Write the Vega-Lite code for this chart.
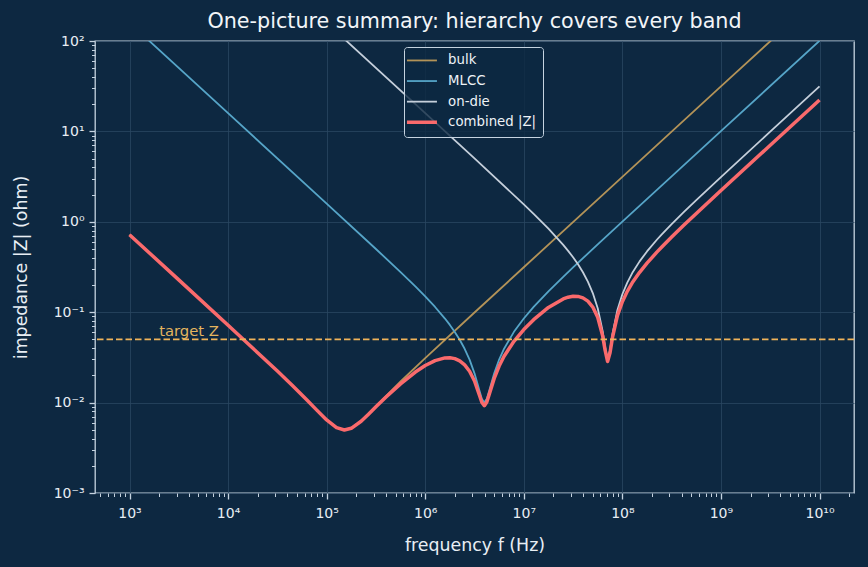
{
  "$schema": "https://vega.github.io/schema/vega-lite/v6.json",
  "width": 759,
  "height": 452,
  "autosize": {"type": "none"},
  "padding": {"left": 95, "top": 41, "right": 14, "bottom": 74},
  "background": "#0d2841",
  "title": {
    "text": "One-picture summary: hierarchy covers every band",
    "fontSize": 20.7,
    "fontWeight": "normal",
    "color": "#f2f5f8",
    "anchor": "middle",
    "offset": 1.5
  },
  "config": {
    "font": "DejaVu Sans",
    "view": {"stroke": "#c5d3e0", "strokeWidth": 1.3, "fill": "#0d2841"},
    "legend": {
      "orient": "none",
      "legendX": 309,
      "legendY": 6,
      "fillColor": "rgba(13,40,65,0.8)",
      "strokeColor": "#c5d3e0",
      "strokeWidth": 1,
      "cornerRadius": 3,
      "padding": 6.8,
      "labelFontSize": 13.3,
      "labelColor": "#eef2f6",
      "symbolType": "M-2,0H2",
      "symbolSize": 225,
      "symbolStrokeWidth": 1.8,
      "symbolOffset": 4.5,
      "labelOffset": 19.5,
      "rowPadding": 6.6
    }
  },
  "datasets": {
    "curves": [
      {"s": "bulk", "f": 1000, "z": 0.72342},
      {"s": "bulk", "f": 3162.28, "z": 0.22872},
      {"s": "bulk", "f": 10000, "z": 0.072202},
      {"s": "bulk", "f": 31622.8, "z": 0.022448},
      {"s": "bulk", "f": 63095.7, "z": 0.010721},
      {"s": "bulk", "f": 100000, "z": 0.006462},
      {"s": "bulk", "f": 125893, "z": 0.005311},
      {"s": "bulk", "f": 151356, "z": 0.005},
      {"s": "bulk", "f": 177828, "z": 0.0052255},
      {"s": "bulk", "f": 223872, "z": 0.0062812},
      {"s": "bulk", "f": 316228, "z": 0.0091365},
      {"s": "bulk", "f": 562341, "z": 0.017126},
      {"s": "bulk", "f": 1e6, "z": 0.031097},
      {"s": "bulk", "f": 3.16228e6, "z": 0.099243},
      {"s": "bulk", "f": 1e7, "z": 0.31413},
      {"s": "bulk", "f": 1e8, "z": 3.1416},
      {"s": "bulk", "f": 1e9, "z": 31.416},
      {"s": "bulk", "f": 3.16228e9, "z": 99.346},
      {"s": "bulk", "f": 1e10, "z": 314.16},

      {"s": "MLCC", "f": 1000, "z": 159.155},
      {"s": "MLCC", "f": 1584.89, "z": 100.42},
      {"s": "MLCC", "f": 10000, "z": 15.9154},
      {"s": "MLCC", "f": 100000, "z": 1.59054},
      {"s": "MLCC", "f": 316228, "z": 0.50011},
      {"s": "MLCC", "f": 562341, "z": 0.277553},
      {"s": "MLCC", "f": 794328, "z": 0.192638},
      {"s": "MLCC", "f": 1e6, "z": 0.14944},
      {"s": "MLCC", "f": 1.25893e6, "z": 0.114204},
      {"s": "MLCC", "f": 1.58489e6, "z": 0.085076},
      {"s": "MLCC", "f": 1.77828e6, "z": 0.072318},
      {"s": "MLCC", "f": 1.99526e6, "z": 0.06054},
      {"s": "MLCC", "f": 2.23872e6, "z": 0.049604},
      {"s": "MLCC", "f": 2.51189e6, "z": 0.039397},
      {"s": "MLCC", "f": 2.81838e6, "z": 0.02986},
      {"s": "MLCC", "f": 3.16228e6, "z": 0.021063},
      {"s": "MLCC", "f": 3.54813e6, "z": 0.013579},
      {"s": "MLCC", "f": 3.75837e6, "z": 0.010992},
      {"s": "MLCC", "f": 3.98107e6, "z": 0.01},
      {"s": "MLCC", "f": 4.21697e6, "z": 0.011029},
      {"s": "MLCC", "f": 4.46684e6, "z": 0.013639},
      {"s": "MLCC", "f": 5.01187e6, "z": 0.021143},
      {"s": "MLCC", "f": 5.62341e6, "z": 0.02995},
      {"s": "MLCC", "f": 6.30957e6, "z": 0.039495},
      {"s": "MLCC", "f": 7.94328e6, "z": 0.060649},
      {"s": "MLCC", "f": 1e7, "z": 0.085204},
      {"s": "MLCC", "f": 1.25893e7, "z": 0.114356},
      {"s": "MLCC", "f": 1.77828e7, "z": 0.170116},
      {"s": "MLCC", "f": 2.51189e7, "z": 0.24639},
      {"s": "MLCC", "f": 3.16228e7, "z": 0.313033},
      {"s": "MLCC", "f": 5.62341e7, "z": 0.562586},
      {"s": "MLCC", "f": 1e8, "z": 1.00377},
      {"s": "MLCC", "f": 1e9, "z": 10.0531},
      {"s": "MLCC", "f": 1e10, "z": 100.531},

      {"s": "on-die", "f": 1000, "z": 15915.5},
      {"s": "on-die", "f": 10000, "z": 1591.55},
      {"s": "on-die", "f": 100000, "z": 159.155},
      {"s": "on-die", "f": 158489, "z": 100.42},
      {"s": "on-die", "f": 1e6, "z": 15.9124},
      {"s": "on-die", "f": 3.16228e6, "z": 5.02299},
      {"s": "on-die", "f": 1e7, "z": 1.56042},
      {"s": "on-die", "f": 1.25893e7, "z": 1.22503},
      {"s": "on-die", "f": 1.77828e7, "z": 0.83967},
      {"s": "on-die", "f": 2.51189e7, "z": 0.555504},
      {"s": "on-die", "f": 2.81838e7, "z": 0.477108},
      {"s": "on-die", "f": 3.16228e7, "z": 0.405058},
      {"s": "on-die", "f": 3.54813e7, "z": 0.338427},
      {"s": "on-die", "f": 3.98107e7, "z": 0.276344},
      {"s": "on-die", "f": 4.46684e7, "z": 0.218049},
      {"s": "on-die", "f": 5.01187e7, "z": 0.16289},
      {"s": "on-die", "f": 5.62341e7, "z": 0.110512},
      {"s": "on-die", "f": 6.30957e7, "z": 0.061796},
      {"s": "on-die", "f": 6.68344e7, "z": 0.041153},
      {"s": "on-die", "f": 7.07946e7, "z": 0.030097},
      {"s": "on-die", "f": 7.49894e7, "z": 0.038014},
      {"s": "on-die", "f": 7.94328e7, "z": 0.057609},
      {"s": "on-die", "f": 8.91251e7, "z": 0.105764},
      {"s": "on-die", "f": 1e8, "z": 0.15788},
      {"s": "on-die", "f": 1.12202e8, "z": 0.212771},
      {"s": "on-die", "f": 1.25893e8, "z": 0.270751},
      {"s": "on-die", "f": 1.49624e8, "z": 0.364922},
      {"s": "on-die", "f": 1.77828e8, "z": 0.470119},
      {"s": "on-die", "f": 2.23872e8, "z": 0.632937},
      {"s": "on-die", "f": 2.51189e8, "z": 0.72639},
      {"s": "on-die", "f": 3.16228e8, "z": 0.943607},
      {"s": "on-die", "f": 4.21697e8, "z": 1.28741},
      {"s": "on-die", "f": 5.62341e8, "z": 1.7386},
      {"s": "on-die", "f": 1e9, "z": 3.12582},
      {"s": "on-die", "f": 3.16228e9, "z": 9.92956},
      {"s": "on-die", "f": 1e10, "z": 31.4143},

      {"s": "combined |Z|", "f": 1000, "z": 0.720109},
      {"s": "combined |Z|", "f": 3162.28, "z": 0.227674},
      {"s": "combined |Z|", "f": 10000, "z": 0.071873},
      {"s": "combined |Z|", "f": 31622.8, "z": 0.022347},
      {"s": "combined |Z|", "f": 44668.4, "z": 0.015545},
      {"s": "combined |Z|", "f": 63095.7, "z": 0.010675},
      {"s": "combined |Z|", "f": 79432.8, "z": 0.0082551},
      {"s": "combined |Z|", "f": 100000, "z": 0.0064356},
      {"s": "combined |Z|", "f": 125893, "z": 0.0052886},
      {"s": "combined |Z|", "f": 151356, "z": 0.0049761},
      {"s": "combined |Z|", "f": 177828, "z": 0.0051948},
      {"s": "combined |Z|", "f": 223872, "z": 0.0062255},
      {"s": "combined |Z|", "f": 266073, "z": 0.0074421},
      {"s": "combined |Z|", "f": 316228, "z": 0.008971},
      {"s": "combined |Z|", "f": 398107, "z": 0.011457},
      {"s": "combined |Z|", "f": 562341, "z": 0.016121},
      {"s": "combined |Z|", "f": 794328, "z": 0.021758},
      {"s": "combined |Z|", "f": 1e6, "z": 0.025699},
      {"s": "combined |Z|", "f": 1.25893e6, "z": 0.029168},
      {"s": "combined |Z|", "f": 1.58489e6, "z": 0.03123},
      {"s": "combined |Z|", "f": 1.77828e6, "z": 0.03135},
      {"s": "combined |Z|", "f": 1.99526e6, "z": 0.030639},
      {"s": "combined |Z|", "f": 2.23872e6, "z": 0.028945},
      {"s": "combined |Z|", "f": 2.51189e6, "z": 0.026155},
      {"s": "combined |Z|", "f": 2.81838e6, "z": 0.022234},
      {"s": "combined |Z|", "f": 3.16228e6, "z": 0.017315},
      {"s": "combined |Z|", "f": 3.54813e6, "z": 0.012071},
      {"s": "combined |Z|", "f": 3.75837e6, "z": 0.010031},
      {"s": "combined |Z|", "f": 3.98107e6, "z": 0.0092377},
      {"s": "combined |Z|", "f": 4.21697e6, "z": 0.010153},
      {"s": "combined |Z|", "f": 4.46684e6, "z": 0.012387},
      {"s": "combined |Z|", "f": 5.01187e6, "z": 0.01853},
      {"s": "combined |Z|", "f": 5.62341e6, "z": 0.025376},
      {"s": "combined |Z|", "f": 6.30957e6, "z": 0.032504},
      {"s": "combined |Z|", "f": 7.94328e6, "z": 0.047615},
      {"s": "combined |Z|", "f": 1e7, "z": 0.064264},
      {"s": "combined |Z|", "f": 1.25893e7, "z": 0.082716},
      {"s": "combined |Z|", "f": 1.77828e7, "z": 0.112874},
      {"s": "combined |Z|", "f": 2.51189e7, "z": 0.140331},
      {"s": "combined |Z|", "f": 2.81838e7, "z": 0.146537},
      {"s": "combined |Z|", "f": 3.16228e7, "z": 0.149927},
      {"s": "combined |Z|", "f": 3.54813e7, "z": 0.149476},
      {"s": "combined |Z|", "f": 3.98107e7, "z": 0.144066},
      {"s": "combined |Z|", "f": 4.46684e7, "z": 0.132575},
      {"s": "combined |Z|", "f": 5.01187e7, "z": 0.11401},
      {"s": "combined |Z|", "f": 5.62341e7, "z": 0.087778},
      {"s": "combined |Z|", "f": 6.30957e7, "z": 0.054736},
      {"s": "combined |Z|", "f": 6.68344e7, "z": 0.038067},
      {"s": "combined |Z|", "f": 7.07946e7, "z": 0.028502},
      {"s": "combined |Z|", "f": 7.49894e7, "z": 0.035637},
      {"s": "combined |Z|", "f": 7.94328e7, "z": 0.052591},
      {"s": "combined |Z|", "f": 8.91251e7, "z": 0.091488},
      {"s": "combined |Z|", "f": 1e8, "z": 0.130745},
      {"s": "combined |Z|", "f": 1.12202e8, "z": 0.170322},
      {"s": "combined |Z|", "f": 1.25893e8, "z": 0.211096},
      {"s": "combined |Z|", "f": 1.49624e8, "z": 0.276371},
      {"s": "combined |Z|", "f": 1.77828e8, "z": 0.348947},
      {"s": "combined |Z|", "f": 2.23872e8, "z": 0.461555},
      {"s": "combined |Z|", "f": 2.51189e8, "z": 0.526455},
      {"s": "combined |Z|", "f": 3.16228e8, "z": 0.677952},
      {"s": "combined |Z|", "f": 4.21697e8, "z": 0.918998},
      {"s": "combined |Z|", "f": 5.62341e8, "z": 1.23659},
      {"s": "combined |Z|", "f": 1e9, "z": 2.21621},
      {"s": "combined |Z|", "f": 3.16228e9, "z": 7.03082},
      {"s": "combined |Z|", "f": 1e10, "z": 22.2405}
    ],
    "target": [{"z": 0.05}],
    "note": [{"f": 2000, "z": 0.05, "label": "target Z"}]
  },
  "layer": [
    {
      "data": {"name": "curves"},
      "mark": {"type": "line", "clip": true, "strokeJoin": "round"},
      "encoding": {
        "x": {
          "field": "f",
          "type": "quantitative",
          "scale": {"type": "log", "domain": [446.68, 2.2387e10], "nice": false},
          "axis": {
            "orient": "bottom",
            "values": [1e3, 1e4, 1e5, 1e6, 1e7, 1e8, 1e9, 1e10],
            "labelExpr": "'10' + replace(replace(replace(replace(replace(replace(replace(replace(replace(replace(replace(toString(round(log(datum.value)/LN10)),'-','⁻'),'0','⁰'),'1','¹'),'2','²'),'3','³'),'4','⁴'),'5','⁵'),'6','⁶'),'7','⁷'),'8','⁸'),'9','⁹')",
            "grid": true,
            "gridColor": "#2a4661",
            "gridWidth": 0.8,
            "domain": false,
            "tickSize": 6,
            "tickWidth": 1.3,
            "tickColor": "#c5d3e0",
            "labelColor": "#e8eef4",
            "labelFontSize": 14,
            "labelPadding": 7.5,
            "labelFlush": false,
            "labelOverlap": false,
            "title": "frequency f (Hz)",
            "titleFontSize": 17.4,
            "titleFontWeight": "normal",
            "titleColor": "#e8eef4",
            "titlePadding": 16
          }
        },
        "y": {
          "field": "z",
          "type": "quantitative",
          "scale": {"type": "log", "domain": [0.001, 100], "nice": false},
          "axis": {
            "orient": "left",
            "values": [0.001, 0.01, 0.1, 1, 10, 100],
            "labelExpr": "'10' + replace(replace(replace(replace(replace(replace(replace(replace(replace(replace(replace(toString(round(log(datum.value)/LN10)),'-','⁻'),'0','⁰'),'1','¹'),'2','²'),'3','³'),'4','⁴'),'5','⁵'),'6','⁶'),'7','⁷'),'8','⁸'),'9','⁹')",
            "grid": true,
            "gridColor": "#2a4661",
            "gridWidth": 0.8,
            "domain": false,
            "tickSize": 6,
            "tickWidth": 1.3,
            "tickColor": "#c5d3e0",
            "labelColor": "#e8eef4",
            "labelFontSize": 14,
            "labelPadding": 5,
            "labelFlush": false,
            "labelOverlap": false,
            "title": "impedance |Z| (ohm)",
            "titleFontSize": 17.4,
            "titleFontWeight": "normal",
            "titleColor": "#e8eef4",
            "titlePadding": 23
          }
        },
        "color": {
          "field": "s",
          "type": "nominal",
          "scale": {
            "domain": ["bulk", "MLCC", "on-die", "combined |Z|"],
            "range": ["#b39358", "#56a5c8", "#c5cfdb", "#fa6a6c"]
          },
          "legend": {
            "title": null,
            "encode": {
              "symbols": {
                "update": {
                  "strokeWidth": {"signal": "datum.value === 'combined |Z|' ? 3.5 : 1.8"}
                }
              }
            }
          }
        },
        "strokeWidth": {
          "condition": {"test": "datum.s === 'combined |Z|'", "value": 3.5},
          "value": 1.8
        },
        "order": {"field": "f", "type": "quantitative"}
      }
    },
    {
      "data": {"name": "target"},
      "mark": {"type": "rule", "color": "#f0b35a", "strokeWidth": 1.8, "strokeDash": [6.5, 3]},
      "encoding": {
        "y": {"field": "z", "type": "quantitative", "axis": null}
      }
    },
    {
      "data": {"name": "note"},
      "mark": {"type": "text", "align": "left", "baseline": "alphabetic", "dy": -3.5, "fontSize": 14.8, "color": "#e3b45e"},
      "encoding": {
        "x": {
          "field": "f",
          "type": "quantitative",
          "axis": {
            "orient": "bottom",
            "values": [500, 600, 700, 800, 900, 2000, 3000, 4000, 5000, 6000, 7000, 8000, 9000, 20000, 30000, 40000, 50000, 60000, 70000, 80000, 90000, 2e5, 3e5, 4e5, 5e5, 6e5, 7e5, 8e5, 9e5, 2e6, 3e6, 4e6, 5e6, 6e6, 7e6, 8e6, 9e6, 2e7, 3e7, 4e7, 5e7, 6e7, 7e7, 8e7, 9e7, 2e8, 3e8, 4e8, 5e8, 6e8, 7e8, 8e8, 9e8, 2e9, 3e9, 4e9, 5e9, 6e9, 7e9, 8e9, 9e9, 2e10],
            "labels": false,
            "grid": false,
            "domain": false,
            "tickSize": 3.5,
            "tickWidth": 1,
            "tickColor": "#c5d3e0",
            "title": null
          }
        },
        "y": {
          "field": "z",
          "type": "quantitative",
          "axis": {
            "orient": "left",
            "values": [0.002, 0.003, 0.004, 0.005, 0.006, 0.007, 0.008, 0.009, 0.02, 0.03, 0.04, 0.05, 0.06, 0.07, 0.08, 0.09, 0.2, 0.3, 0.4, 0.5, 0.6, 0.7, 0.8, 0.9, 2, 3, 4, 5, 6, 7, 8, 9, 20, 30, 40, 50, 60, 70, 80, 90],
            "labels": false,
            "grid": false,
            "domain": false,
            "tickSize": 3.5,
            "tickWidth": 1,
            "tickColor": "#c5d3e0",
            "title": null
          }
        },
        "text": {"field": "label"}
      }
    }
  ],
  "resolve": {"axis": {"x": "independent", "y": "independent"}}
}
